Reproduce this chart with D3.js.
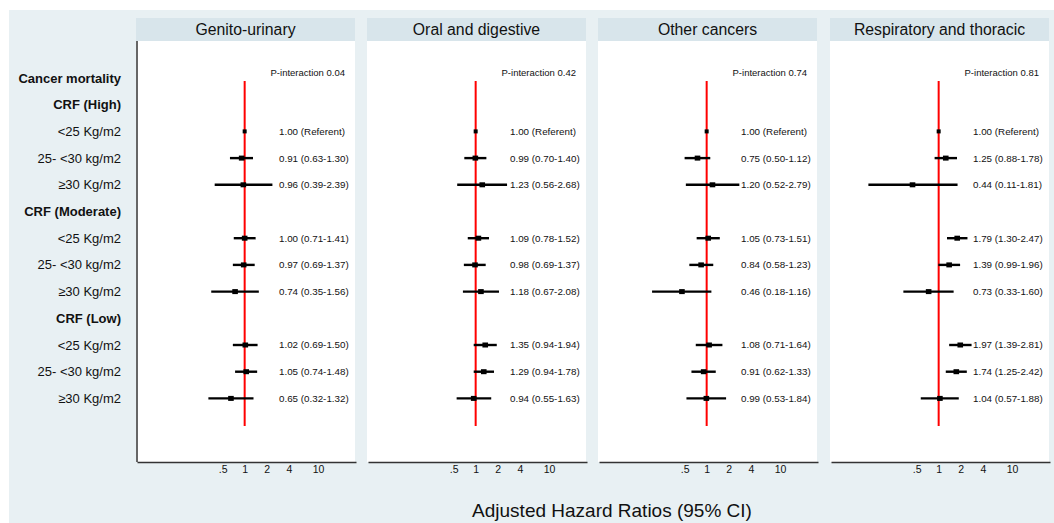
<!DOCTYPE html>
<html>
<head>
<meta charset="utf-8">
<script src="https://cdn.jsdelivr.net/npm/d3@7"></script>
<style>
    body { margin: 0; background: #fff; }
    svg { display: block; font-family: "Liberation Sans", Arial, sans-serif; }
</style>
</head>
<body>
<svg id="chart" width="1054" height="523"></svg>
<script>
// Forest plot data
const panels = ['Genito-urinary', 'Oral and digestive', 'Other cancers', 'Respiratory and thoracic'];
const pInteraction = ['0.04', '0.42', '0.74', '0.81'];

const rowLabels = ['Cancer mortality', 'CRF (High)', '<25 Kg/m2', '25- <30 kg/m2', '\u226530 Kg/m2',
    'CRF (Moderate)', '<25 Kg/m2', '25- <30 kg/m2', '\u226530 Kg/m2',
    'CRF (Low)', '<25 Kg/m2', '25- <30 kg/m2', '\u226530 Kg/m2'];
const headerRows = [0, 1, 5, 9];
// rows that carry an estimate
const dataRows = [2, 3, 4, 6, 7, 8, 10, 11, 12];

// [hr, lo, hi] per data row; first row is the referent
const genitoUrinary = [[1.00, null, null], [0.91, 0.63, 1.30], [0.96, 0.39, 2.39],
    [1.00, 0.71, 1.41], [0.97, 0.69, 1.37], [0.74, 0.35, 1.56],
    [1.02, 0.69, 1.50], [1.05, 0.74, 1.48], [0.65, 0.32, 1.32]];
const oralDigestive = [[1.00, null, null], [0.99, 0.70, 1.40], [1.23, 0.56, 2.68],
    [1.09, 0.78, 1.52], [0.98, 0.69, 1.37], [1.18, 0.67, 2.08],
    [1.35, 0.94, 1.94], [1.29, 0.94, 1.78], [0.94, 0.55, 1.63]];
const otherCancers = [[1.00, null, null], [0.75, 0.50, 1.12], [1.20, 0.52, 2.79],
    [1.05, 0.73, 1.51], [0.84, 0.58, 1.23], [0.46, 0.18, 1.16],
    [1.08, 0.71, 1.64], [0.91, 0.62, 1.33], [0.99, 0.53, 1.84]];
const respiratory = [[1.00, null, null], [1.25, 0.88, 1.78], [0.44, 0.11, 1.81],
    [1.79, 1.30, 2.47], [1.39, 0.99, 1.96], [0.73, 0.33, 1.60],
    [1.97, 1.39, 2.81], [1.74, 1.25, 2.42], [1.04, 0.57, 1.88]];
const seriesData = [genitoUrinary, oralDigestive, otherCancers, respiratory];

const tickValues = [0.5, 1, 2, 4, 10];
const tickLabels = ['.5', '1', '2', '4', '10'];

const svg = d3.select('#chart');

// outer background
svg.append('rect')
    .attr('x', 9).attr('y', 10)
    .attr('width', 1045).attr('height', 513)
    .attr('fill', '#e8f0f3');

const panelLefts = [137, 368, 599, 831];
const panelWidth = 219;
const headerTop = 18, plotTop = 41, plotBottom = 462;

const y = d3.scaleLinear().domain([0, 1]).range([78, 78 + 26.7]);

// row labels on the left
svg.append('g')
    .selectAll('text')
    .data(rowLabels)
    .join('text')
    .attr('x', 121)
    .attr('y', (d, i) => y(i))
    .attr('dy', '0.35em')
    .attr('text-anchor', 'end')
    .attr('font-size', 13)
    .attr('font-weight', (d, i) => headerRows.includes(i) ? 'bold' : 'normal')
    .attr('fill', '#111')
    .text(d => d);

panels.forEach((name, p) => {
    const left = panelLefts[p];
    const g = svg.append('g');

    const x = d3.scaleLog()
        .domain([0.034, 33])
        .range([left, left + panelWidth]);

    // header strip
    g.append('rect')
        .attr('x', left - 1).attr('y', headerTop)
        .attr('width', panelWidth).attr('height', plotTop - headerTop)
        .attr('fill', '#d8e5eb');
    g.append('text')
        .attr('x', left - 1 + panelWidth / 2)
        .attr('y', (headerTop + plotTop) / 2)
        .attr('dy', '0.36em')
        .attr('text-anchor', 'middle')
        .attr('font-size', 15.8)
        .attr('fill', '#111')
        .text(name);

    // white plot region
    g.append('rect')
        .attr('x', left - 1).attr('y', plotTop)
        .attr('width', panelWidth).attr('height', plotBottom - plotTop)
        .attr('fill', '#fff');

    // axes
    const axis = d3.axisBottom(x)
        .tickValues(tickValues)
        .tickFormat((d, i) => tickLabels[i])
        .tickSize(0)
        .tickPadding(4);
    const ax = g.append('g')
        .attr('transform', `translate(0,${plotBottom})`)
        .call(axis);
    ax.select('.domain').attr('stroke', '#333').attr('stroke-width', 1.5);
    ax.selectAll('text').attr('font-size', 10.5).attr('fill', '#111')
        .attr('font-family', '"Liberation Sans", Arial, sans-serif');

    if (p === 0) {
        g.append('line')
            .attr('x1', left).attr('x2', left)
            .attr('y1', plotTop).attr('y2', plotBottom)
            .attr('stroke', '#333').attr('stroke-width', 1.5);
    }

    // reference line at HR = 1
    g.append('line')
        .attr('x1', x(1)).attr('x2', x(1))
        .attr('y1', 81).attr('y2', 426)
        .attr('stroke', '#ff0000').attr('stroke-width', 2);

    // P-interaction
    g.append('text')
        .attr('x', left + 208)
        .attr('y', y(0) - 5)
        .attr('dy', '0.35em')
        .attr('text-anchor', 'end')
        .attr('font-size', 9.5)
        .attr('fill', '#111')
        .text('P-interaction ' + pInteraction[p]);

    const rows = seriesData[p].map((d, i) => ({ hr: d[0], lo: d[1], hi: d[2], row: dataRows[i] }));

    // confidence intervals
    g.selectAll('line.ci')
        .data(rows.filter(d => d.lo !== null))
        .join('line')
        .attr('class', 'ci')
        .attr('x1', d => x(d.lo)).attr('x2', d => x(d.hi))
        .attr('y1', d => y(d.row)).attr('y2', d => y(d.row))
        .attr('stroke', '#000').attr('stroke-width', 2.4);

    // point estimates (referent drawn smaller)
    g.selectAll('rect.pt')
        .data(rows)
        .join('rect')
        .attr('class', 'pt')
        .attr('x', d => x(d.hr) - (d.lo === null ? 2 : 2.8))
        .attr('y', d => y(d.row) - (d.lo === null ? 2 : 2.5))
        .attr('width', d => d.lo === null ? 4 : 5.6)
        .attr('height', d => d.lo === null ? 4 : 5)
        .attr('fill', '#000');

    // estimate labels
    g.selectAll('text.est')
        .data(rows)
        .join('text')
        .attr('class', 'est')
        .attr('x', left + 142)
        .attr('y', d => y(d.row))
        .attr('dy', '0.35em')
        .attr('font-size', 9.8)
        .attr('fill', '#111')
        .text(d => d.lo === null
            ? d.hr.toFixed(2) + ' (Referent)'
            : `${d.hr.toFixed(2)} (${d.lo.toFixed(2)}-${d.hi.toFixed(2)})`);
});

// x axis title
svg.append('text')
    .attr('x', 612)
    .attr('y', 517)
    .attr('text-anchor', 'middle')
    .attr('font-size', 19)
    .attr('fill', '#111')
    .text('Adjusted Hazard Ratios (95% CI)');
</script>
</body>
</html>
